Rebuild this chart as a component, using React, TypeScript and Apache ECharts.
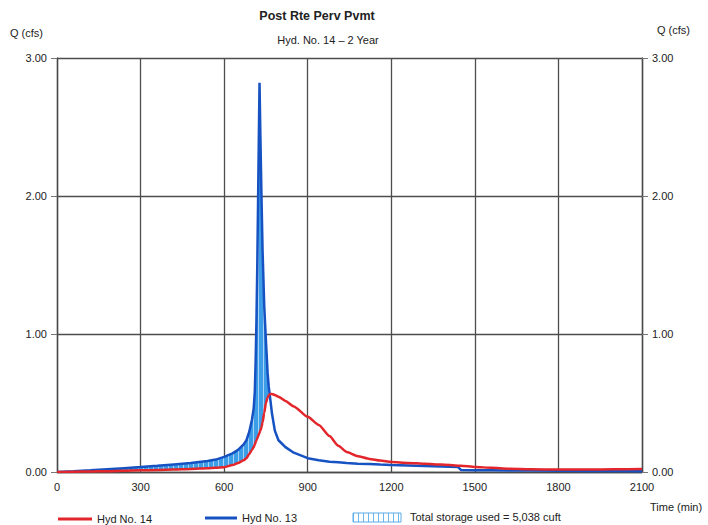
import React, { useEffect, useRef } from "react";
import * as echarts from "echarts";

// Time ordinates (min) shared by both hydrographs
const times = [
  0, 60, 120, 180, 240, 300, 360, 420, 480, 540, 570, 600, 630, 650, 670, 680, 690, 700, 706, 710,
  713, 716, 719, 722, 725, 727, 730, 734, 738, 744, 750, 756, 760, 766, 772, 782, 795, 820, 850, 900,
  940, 978, 1010, 1040, 1080, 1122, 1160, 1200, 1260, 1320, 1380, 1440, 1450, 1500, 1560, 1620, 1700, 1800, 1900, 2000,
  2100,
];

// Hyd No. 13 – inflow (cfs)
const hyd13 = [
  0, 0.005, 0.012, 0.02, 0.028, 0.036, 0.045, 0.055, 0.065, 0.08, 0.09, 0.11, 0.135, 0.16, 0.2, 0.23, 0.29, 0.38, 0.46, 0.58,
  0.8, 1.1, 1.5, 2.0, 2.5, 2.82, 2.45, 2.0, 1.6, 1.2, 0.95, 0.72, 0.62, 0.52, 0.42, 0.3, 0.23, 0.18, 0.14, 0.1,
  0.085, 0.075, 0.07, 0.065, 0.06, 0.058, 0.054, 0.05, 0.047, 0.044, 0.04, 0.036, 0.015, 0.013, 0.012, 0.011, 0.01, 0.009, 0.008, 0.007,
  0.006,
];

// Hyd No. 14 – outflow (cfs)
const hyd14 = [
  0, 0.002, 0.004, 0.006, 0.009, 0.012, 0.015, 0.018, 0.022, 0.027, 0.03, 0.035, 0.05, 0.065, 0.085, 0.1, 0.13, 0.16, 0.18, 0.2,
  0.215, 0.23, 0.245, 0.26, 0.275, 0.285, 0.3, 0.325, 0.36, 0.43, 0.5, 0.54, 0.555, 0.565, 0.565, 0.558, 0.545, 0.515, 0.475, 0.4,
  0.34, 0.26, 0.19, 0.145, 0.115, 0.095, 0.083, 0.073, 0.066, 0.06, 0.054, 0.046, 0.045, 0.037, 0.03, 0.023, 0.02, 0.018, 0.018, 0.02,
  0.022,
];

// Storage accumulates while inflow exceeds outflow, up to the outflow peak
const storageEnd = 766;

const xTicks = [0, 300, 600, 900, 1200, 1500, 1800, 2100];
const yTicks = [0, 1, 2, 3];

const TITLE = "Post Rte Perv Pvmt";
const SUBTITLE = "Hyd. No. 14 \u2013 2 Year";
const STORAGE_LABEL = "Total storage used = 5,038 cuft";

const RED = "#e3262b";
const BLUE = "#1652c2";
const FILL = "#3d9ee8";
const FONT = "'Liberation Sans', Arial, sans-serif";

function hatch(bg: string, line: string, w: number, h: number) {
  const c = document.createElement("canvas");
  c.width = w;
  c.height = h;
  const ctx = c.getContext("2d")!;
  ctx.fillStyle = bg;
  ctx.fillRect(0, 0, w, h);
  ctx.fillStyle = line;
  ctx.fillRect(w - 2, 0, 1, h);
  return c;
}

export default function App() {
  const ref = useRef<HTMLDivElement>(null);

  useEffect(() => {
    if (!ref.current) return;
    const chart = echarts.init(ref.current, undefined, { renderer: "svg" });

    const inflow = times.map((t, i) => [t, hyd13[i]]);
    const outflow = times.map((t, i) => [t, hyd14[i]]);

    // Polygon between inflow (top) and outflow (bottom) over the storage period
    const idx = times.map((_t, i) => i).filter((i) => times[i] <= storageEnd);
    const upper = idx.map((i) => [times[i], Math.max(hyd13[i], hyd14[i])]);
    const lower = idx.map((i) => [times[i], hyd14[i]]).reverse();
    const storagePoly = upper.concat(lower);

    const areaPattern = hatch(FILL, "#a8d3f6", 5, 4);
    const legendPattern = hatch("#ffffff", "#6db6ee", 5, 4);

    const textStyle = { fontFamily: FONT, fill: "#222", fontSize: 11 };

    const yAxisCommon = {
      type: "value" as const,
      min: 0,
      max: 3,
      interval: 1,
      axisLabel: {
        color: "#222",
        fontSize: 11,
        fontFamily: FONT,
        margin: 10,
        formatter: (v: number) => (yTicks.includes(v) ? v.toFixed(2) : ""),
      },
      axisLine: { show: true, lineStyle: { color: "#4a4a4a", width: 1.4 } },
      axisTick: { show: true, length: 6, lineStyle: { color: "#777" } },
    };

    chart.setOption({
      animation: false,
      backgroundColor: "#ffffff",
      grid: { left: 57, right: 66, top: 58, bottom: 53 },
      xAxis: {
        type: "value",
        min: 0,
        max: 2100,
        interval: 300,
        axisLabel: {
          color: "#222",
          fontSize: 11,
          fontFamily: FONT,
          margin: 9,
          formatter: (v: number) => (xTicks.includes(v) ? String(v) : ""),
        },
        axisLine: { show: true, lineStyle: { color: "#4a4a4a", width: 1.4 } },
        axisTick: { show: false },
        splitLine: { show: true, lineStyle: { color: "#4d4d4d", width: 1.3 } },
      },
      yAxis: [
        {
          ...yAxisCommon,
          position: "left",
          splitLine: { show: true, lineStyle: { color: "#4d4d4d", width: 1.3 } },
        },
        {
          ...yAxisCommon,
          position: "right",
          splitLine: { show: false },
        },
      ],
      series: [
        {
          name: "Total storage used",
          type: "custom",
          silent: true,
          data: [[0, 0]],
          encode: { x: 0, y: 1 },
          renderItem: (_params: any, api: any) => ({
            type: "polygon",
            shape: { points: storagePoly.map((p) => api.coord(p)) },
            style: { fill: { image: areaPattern, repeat: "repeat" }, stroke: "none" },
          }),
          z: 1,
        },
        {
          name: "Hyd No. 13",
          type: "line",
          data: inflow,
          symbol: "none",
          lineStyle: { color: BLUE, width: 2.5 },
          z: 3,
        },
        {
          name: "Hyd No. 14",
          type: "line",
          data: outflow,
          symbol: "none",
          smooth: 0.2,
          smoothMonotone: "x",
          lineStyle: { color: RED, width: 2.5 },
          z: 4,
        },
      ],
      graphic: [
        {
          type: "text",
          x: 317,
          y: 16,
          style: { ...textStyle, text: TITLE, fontSize: 12.5, fontWeight: "bold", textAlign: "center", textVerticalAlign: "middle" },
        },
        {
          type: "text",
          x: 328,
          y: 40,
          style: { ...textStyle, text: SUBTITLE, textAlign: "center", textVerticalAlign: "middle" },
        },
        {
          type: "text",
          x: 10,
          y: 33,
          style: { ...textStyle, text: "Q (cfs)", textAlign: "left", textVerticalAlign: "middle" },
        },
        {
          type: "text",
          x: 657,
          y: 30,
          style: { ...textStyle, text: "Q (cfs)", textAlign: "left", textVerticalAlign: "middle" },
        },
        {
          type: "text",
          x: 650,
          y: 507,
          style: { ...textStyle, text: "Time (min)", textAlign: "left", textVerticalAlign: "middle" },
        },
        {
          type: "line",
          shape: { x1: 58, y1: 519, x2: 92, y2: 519 },
          style: { stroke: RED, lineWidth: 3 },
        },
        {
          type: "text",
          x: 97,
          y: 519,
          style: { ...textStyle, text: "Hyd No. 14", textAlign: "left", textVerticalAlign: "middle" },
        },
        {
          type: "line",
          shape: { x1: 205, y1: 518, x2: 237, y2: 518 },
          style: { stroke: BLUE, lineWidth: 3 },
        },
        {
          type: "text",
          x: 242,
          y: 518,
          style: { ...textStyle, text: "Hyd No. 13", textAlign: "left", textVerticalAlign: "middle" },
        },
        {
          type: "rect",
          shape: { x: 353, y: 513, width: 48, height: 9 },
          style: { fill: { image: legendPattern, repeat: "repeat" } as any, stroke: "#5aaceb", lineWidth: 1 },
        },
        {
          type: "text",
          x: 410,
          y: 517,
          style: { ...textStyle, text: STORAGE_LABEL, textAlign: "left", textVerticalAlign: "middle" },
        },
      ],
    });

    return () => chart.dispose();
  }, []);

  return (
    <div
      ref={ref}
      style={{ position: "fixed", left: 0, top: 0, width: 708, height: 525, background: "#fff" }}
    />
  );
}
